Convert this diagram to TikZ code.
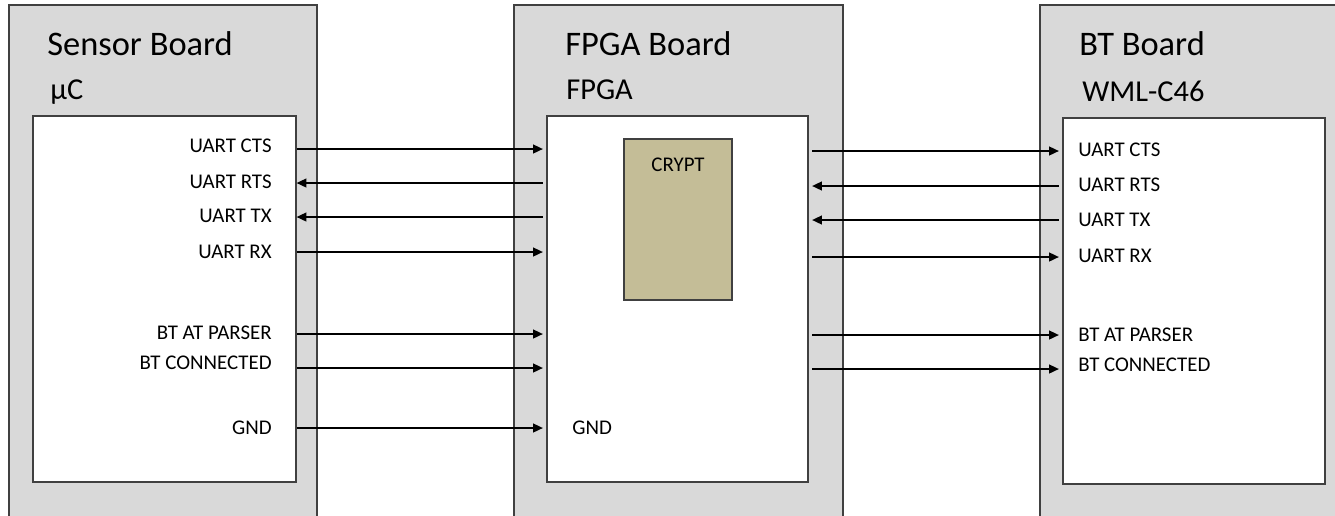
\documentclass[tikz,border=0pt]{standalone}
\usepackage{fontspec}
\setmainfont{Carlito}
\usetikzlibrary{arrows.meta,positioning,fit}
\definecolor{boardgray}{HTML}{D9D9D9}
\definecolor{edgegray}{HTML}{404040}
\definecolor{crypttan}{HTML}{C4BD97}

\begin{document}
\begin{tikzpicture}[x=0.02cm, y=-0.02cm]
\tikzstyle{board}=[draw=edgegray, fill=boardgray, line width=0.7pt, inner sep=0pt]
\tikzstyle{chip}=[draw=edgegray, fill=white, line width=0.7pt, inner sep=0pt]
\tikzstyle{btitle}=[anchor=base west, inner sep=0pt, font=\fontsize{19.6}{22}\selectfont]
\tikzstyle{bsub}=[anchor=base west, inner sep=0pt, font=\fontsize{17.3}{20}\selectfont]
\tikzstyle{pin}=[inner sep=0pt, font=\fontsize{11.9}{14}\selectfont]
\useasboundingbox (0,0) rectangle (1335,515);
\clip (0,0) rectangle (1335,515);
% boards
\node[board, fit={(9,5) (317,540)}] (SB) {};
\node[board, fit={(514,5) (843,540)}] (FB) {};
\node[board, fit={(1040,5) (1360,540)}] (BB) {};
\node[btitle] (SBt) at (47,55) {Sensor Board};
\node[btitle] (FBt) at (565,55) {FPGA Board};
\node[btitle] (BBt) at (1079,55) {BT Board};
\node[bsub] (SBs) at (50,99) {μC};
\node[bsub] (FBs) at (566,99) {FPGA};
\node[bsub] (BBs) at (1082,101) {WML-C46};
% chips
\node[chip, fit={(33,116) (296,482)}] (uc) {};
\node[chip, fit={(547,116) (808,482)}] (fpga) {};
\node[chip, fit={(1063,118) (1325,484)}] (wml) {};
\node[chip, fill=crypttan, fit={(624,139) (732,300)}] (crypt) {};
\node[pin, below=0.38cm of crypt.north] (cryptt) {CRYPT};
% pins on the sensor side
\node[pin, anchor=east] (sCTS) at (272,146) {UART CTS};
\node[pin, anchor=east] (sRTS) at (272,182) {UART RTS};
\node[pin, anchor=east] (sTX) at (272,216) {UART TX};
\node[pin, anchor=east] (sRX) at (272,252) {UART RX};
\node[pin, anchor=east] (sAT) at (272,333) {BT AT PARSER};
\node[pin, anchor=east] (sCON) at (272,363) {BT CONNECTED};
\node[pin, anchor=east] (sGND) at (272,428) {GND};
\node[pin, anchor=west] (fGND) at (572,428) {GND};
% pins on the BT side
\node[pin, anchor=west] (bCTS) at (1078,150) {UART CTS};
\node[pin, anchor=west] (bRTS) at (1078,185) {UART RTS};
\node[pin, anchor=west] (bTX) at (1078,220) {UART TX};
\node[pin, anchor=west] (bRX) at (1078,256) {UART RX};
\node[pin, anchor=west] (bAT) at (1078,335) {BT AT PARSER};
\node[pin, anchor=west] (bCON) at (1078,365) {BT CONNECTED};
\tikzstyle{sig}=[-{Triangle[length=5.5pt,width=5pt]}, line width=0.8pt]
% uC <-> FPGA
\draw[sig, shorten >=2pt] (uc.east |- 0,149) -- (fpga.west |- 0,149);
\draw[sig, shorten <=2pt] (fpga.west |- 0,183) -- (uc.east |- 0,183);
\draw[sig, shorten <=2pt] (fpga.west |- 0,217) -- (uc.east |- 0,217);
\draw[sig, shorten >=2pt] (uc.east |- 0,252) -- (fpga.west |- 0,252);
\draw[sig, shorten >=2pt] (uc.east |- 0,334) -- (fpga.west |- 0,334);
\draw[sig, shorten >=2pt] (uc.east |- 0,368) -- (fpga.west |- 0,368);
\draw[sig, shorten >=2pt] (uc.east |- sGND) -- (fpga.west |- sGND);
% FPGA <-> BT
\draw[sig, shorten <=2pt, shorten >=2pt] (fpga.east |- 0,151) -- (wml.west |- 0,151);
\draw[sig, shorten <=2pt, shorten >=2pt] (wml.west |- 0,186) -- (fpga.east |- 0,186);
\draw[sig, shorten <=2pt, shorten >=2pt] (wml.west |- 0,220) -- (fpga.east |- 0,220);
\draw[sig, shorten <=2pt, shorten >=2pt] (fpga.east |- 0,257) -- (wml.west |- 0,257);
\draw[sig, shorten <=2pt, shorten >=2pt] (fpga.east |- 0,335) -- (wml.west |- 0,335);
\draw[sig, shorten <=2pt, shorten >=2pt] (fpga.east |- 0,369) -- (wml.west |- 0,369);
\end{tikzpicture}
\end{document}
